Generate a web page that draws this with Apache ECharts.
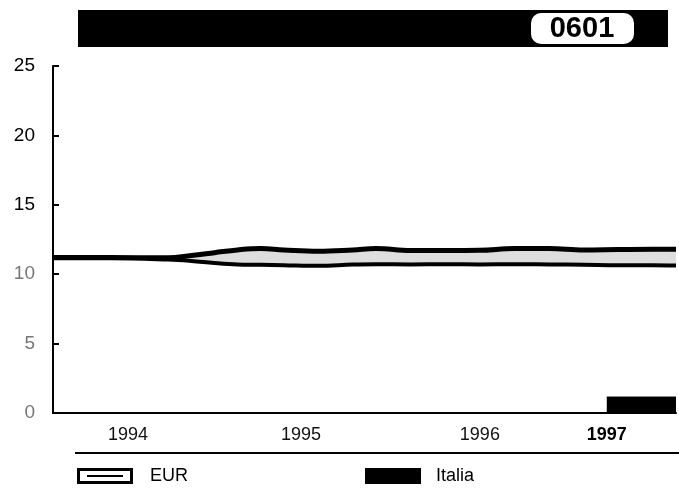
<!DOCTYPE html>
<html>
<head>
<meta charset="utf-8">
<script src="https://cdn.jsdelivr.net/npm/echarts@6/dist/echarts.min.js"></script>
<style>
html,body{margin:0;padding:0;background:#fff;overflow:hidden;}
#chart{width:679px;height:488px;}
</style>
</head>
<body>
<div id="chart"></div>
<script>
// ---- data ----
var periodIdx = [0, 10, 20, 24, 28, 32, 36, 40, 46, 52, 56, 62, 68, 74, 80, 86, 92, 98, 104, 108];
var eurUpper = [11.2, 11.2, 11.18, 11.35, 11.55, 11.75, 11.85, 11.75, 11.65, 11.75, 11.85, 11.7, 11.7, 11.72, 11.85, 11.85, 11.75, 11.78, 11.8, 11.8];
var eurLower = [11.15, 11.15, 11.05, 10.95, 10.8, 10.7, 10.68, 10.65, 10.6, 10.7, 10.72, 10.7, 10.72, 10.7, 10.72, 10.7, 10.68, 10.65, 10.65, 10.62];
var italiaIdx = [96, 108];
var italiaVals = [1.15, 1.15];
var yearLabels = ['1994', '1995', '1996', '1997'];
var yearPos = [13, 43, 74, 96];
var yTicks = [0, 5, 10, 15, 20, 25];
var titleCode = '0601';

var upperData = periodIdx.map(function (x, i) { return [x, eurUpper[i]]; });
var lowerData = periodIdx.map(function (x, i) { return [x, eurLower[i]]; });
var italiaData = italiaIdx.map(function (x, i) { return [x, italiaVals[i]]; });

var chart = echarts.init(document.getElementById('chart'), null, {renderer: 'canvas'});
var FONT = '"Liberation Sans", Arial, Helvetica, sans-serif';

chart.setOption({
  animation: false,
  backgroundColor: '#fff',
  grid: {left: 53, right: -4, top: 66, bottom: 75, containLabel: false},
  xAxis: {
    type: 'value', min: 0, max: 108, interval: 1, z: 10,
    axisLine: {show: true, lineStyle: {color: '#000', width: 2}},
    axisTick: {show: false},
    splitLine: {show: false},
    axisLabel: {
      margin: 13,
      fontFamily: FONT, fontSize: 18, color: '#111',
      formatter: function (v) {
        var k = yearPos.indexOf(v);
        if (k < 0) return '';
        return k === yearLabels.length - 1 ? '{b|' + yearLabels[k] + '}' : yearLabels[k];
      },
      rich: {b: {fontFamily: FONT, fontSize: 18, fontWeight: 'bold', color: '#000'}}
    }
  },
  yAxis: {
    type: 'value', min: yTicks[0], max: yTicks[yTicks.length - 1], interval: 5, z: 10,
    axisLine: {show: true, lineStyle: {color: '#000', width: 2}},
    axisTick: {show: true, inside: true, length: 6, lineStyle: {color: '#000', width: 2}},
    splitLine: {show: false},
    axisLabel: {
      margin: 18, fontFamily: FONT, fontSize: 19,
      color: function (v) { return v >= 15 ? '#000' : '#777'; }
    }
  },
  legend: [
    {
      left: 72, top: 462, itemWidth: 56, itemHeight: 16, itemGap: 0,
      data: [{name: 'EUR', icon: 'path://M0,0 H56 V16 H0 Z M3,3 V13 H53 V3 Z M10,7 H46 V9 H10 Z'}],
      itemStyle: {color: '#000', borderWidth: 0},
      textStyle: {fontFamily: FONT, fontSize: 18, color: '#000', padding: [0, 0, 0, 12]},
      selectedMode: false
    },
    {
      left: 360, top: 462, itemWidth: 56, itemHeight: 16,
      data: [{name: 'Italia', icon: 'rect'}],
      itemStyle: {color: '#000', borderWidth: 0},
      textStyle: {fontFamily: FONT, fontSize: 18, color: '#000', padding: [0, 0, 0, 10]},
      selectedMode: false
    }
  ],
  graphic: [
    {type: 'rect', shape: {x: 78, y: 10, width: 590, height: 37}, style: {fill: '#000'}, z: 10},
    {type: 'rect', shape: {x: 531, y: 13, width: 103, height: 31, r: 10}, style: {fill: '#fff'}, z: 11},
    {type: 'text', x: 582, y: 29, z: 12, style: {text: titleCode, fill: '#000', font: 'bold 29px ' + FONT, textAlign: 'center', textVerticalAlign: 'middle'}},
    {type: 'line', shape: {x1: 75, y1: 453, x2: 679, y2: 453}, style: {stroke: '#000', lineWidth: 2}, z: 10}
  ],
  series: [
    {
      name: 'EUR', type: 'line', data: upperData, clip: false,
      smooth: 0.4, symbol: 'none', z: 2,
      itemStyle: {color: '#000'},
      lineStyle: {color: '#000', width: 5},
      areaStyle: {color: '#dedede', opacity: 1}
    },
    {
      name: 'EUR', type: 'line', data: lowerData, clip: false,
      smooth: 0.4, symbol: 'none', z: 3,
      itemStyle: {color: '#000'},
      lineStyle: {color: '#000', width: 4},
      areaStyle: {color: '#fff', opacity: 1}
    },
    {
      name: 'Italia', type: 'line', data: italiaData, clip: false,
      symbol: 'none', z: 4,
      itemStyle: {color: '#000'},
      lineStyle: {color: '#000', width: 1},
      areaStyle: {color: '#000', opacity: 1}
    }
  ]
});
</script>
</body>
</html>
